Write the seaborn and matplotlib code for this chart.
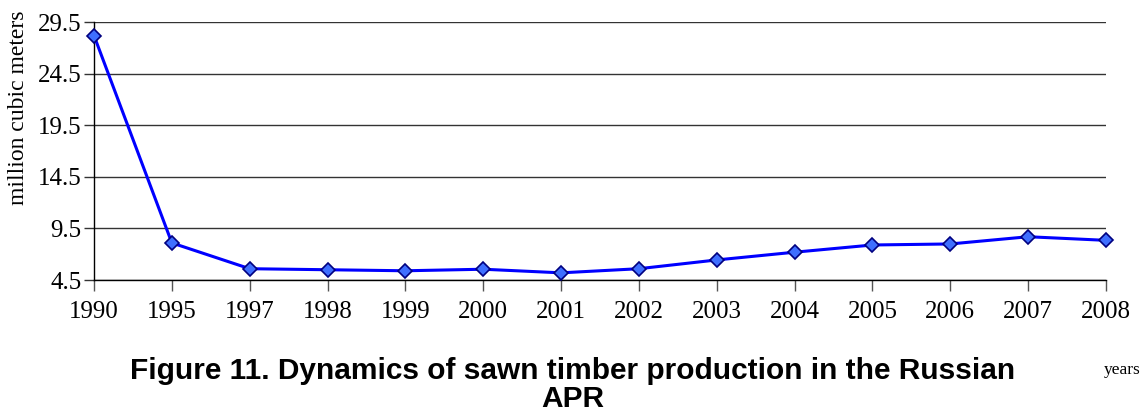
import pandas as pd
import numpy as np
import matplotlib
matplotlib.use("Agg")
import matplotlib.pyplot as plt
import seaborn as sns

# ── Data ──────────────────────────────────────────────────────────────────────
years  = ["1990", "1995", "1997", "1998", "1999", "2000", "2001",
          "2002", "2003", "2004", "2005", "2006", "2007", "2008"]
volume = [28.2, 8.1, 5.6, 5.5, 5.4, 5.55, 5.2,
          5.6, 6.45, 7.2, 7.9, 8.0, 8.7, 8.35]
y_ticks = [4.5, 9.5, 14.5, 19.5, 24.5, 29.5]

title_text = "Figure 11. Dynamics of sawn timber production in the Russian\nAPR"
y_label    = "million cubic meters"
x_label    = "years"

df = pd.DataFrame({"year": years, "volume": volume})

# ── Style ─────────────────────────────────────────────────────────────────────
sns.set_style("white", rc={"text.color": "black", "axes.labelcolor": "black",
                           "xtick.color": "black", "ytick.color": "black"})
plt.rcParams["font.family"] = ["Liberation Serif", "DejaVu Serif"]

fig = plt.figure(figsize=(11.45, 4.18), dpi=100)
ax  = fig.add_axes([0.0821, 0.330, 0.8838, 0.617])

sns.lineplot(
    data=df, x="year", y="volume", ax=ax,
    color="#0000FF", linewidth=2.2,
    marker="D", markersize=7.5,
    markerfacecolor="#3F6FFF", markeredgecolor="#000080", markeredgewidth=1.2,
    clip_on=False, zorder=5,
)

ax.set_xlim(0, len(years) - 1)
ax.set_ylim(y_ticks[0], y_ticks[-1])
ax.set_yticks(y_ticks)
ax.set_yticklabels([f"{t:.1f}" for t in y_ticks])

ax.grid(axis="y", color="#333333", linewidth=1.0)
ax.set_axisbelow(True)
for side in ("top", "right"):
    ax.spines[side].set_visible(False)
for side in ("left", "bottom"):
    ax.spines[side].set_color("black")
    ax.spines[side].set_linewidth(1.0)

ax.tick_params(axis="x", direction="out", length=8, width=1, color="#555555",
               labelcolor="black", labelsize=18, pad=7, bottom=True)
ax.tick_params(axis="y", direction="out", length=7, width=1, color="#333333",
               labelcolor="black", labelsize=18, pad=2, left=True)

ax.set_xlabel("")
ax.set_ylabel(y_label, fontsize=17, labelpad=2, color="black")
ax.yaxis.set_label_coords(-0.064, 0.67)

fig.text(0.50, 0.079, title_text, ha="center", va="center", color="black",
         fontsize=21.5, fontweight="bold", family=["Liberation Sans", "DejaVu Sans"],
         linespacing=0.98)
fig.text(0.980, 0.115, x_label, ha="center", va="center", fontsize=12.5,
         color="black")

plt.savefig("out.png", dpi=100)
plt.close()
